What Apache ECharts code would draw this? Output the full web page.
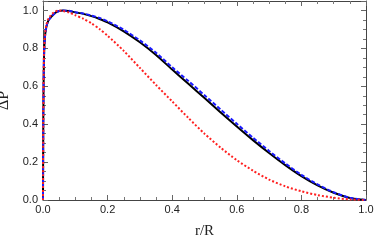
<!DOCTYPE html>
<html>
<head>
<meta charset="utf-8">
<script src="https://cdn.jsdelivr.net/npm/echarts@6/dist/echarts.min.js"></script>
<style>html,body{margin:0;padding:0;background:#fff;}#c{width:374px;height:243px;}</style>
</head>
<body>
<div id="c"></div>
<script>
const xs = [0, 0.001, 0.003, 0.006, 0.01, 0.015, 0.02, 0.03, 0.04, 0.05, 0.06, 0.08, 0.1, 0.125, 0.15, 0.175, 0.2, 0.25, 0.3, 0.35, 0.4, 0.45, 0.5, 0.55, 0.6, 0.65, 0.7, 0.75, 0.8, 0.85, 0.9, 0.95, 1.0];
const blackVals = [0, 0.45, 0.75, 0.86, 0.91, 0.94, 0.955, 0.975, 0.99, 0.997, 1.0, 0.997, 0.99, 0.982, 0.97, 0.955, 0.937, 0.89, 0.832, 0.765, 0.688, 0.613, 0.538, 0.462, 0.388, 0.316, 0.248, 0.184, 0.126, 0.077, 0.038, 0.011, 0];
const blueVals = [0, 0.45, 0.75, 0.86, 0.91, 0.94, 0.955, 0.975, 0.99, 0.997, 1.0, 0.998, 0.991, 0.984, 0.973, 0.96, 0.943, 0.898, 0.842, 0.777, 0.70, 0.628, 0.553, 0.477, 0.402, 0.329, 0.259, 0.193, 0.133, 0.082, 0.041, 0.012, 0];
const redVals = [0, 0.47, 0.77, 0.87, 0.92, 0.95, 0.965, 0.985, 0.996, 1.0, 0.998, 0.99, 0.975, 0.956, 0.932, 0.902, 0.867, 0.787, 0.697, 0.607, 0.52, 0.433, 0.35, 0.276, 0.21, 0.155, 0.108, 0.072, 0.046, 0.026, 0.012, 0.003, 0];
const xTicks = ['0.0', '0.2', '0.4', '0.6', '0.8', '1.0'];
const yTicks = ['0.0', '0.2', '0.4', '0.6', '0.8', '1.0'];
const xTitle = 'r/R';
const yTitle = 'ΔP';

const pairs = v => xs.map((x, i) => [x, v[i]]);
const chart = echarts.init(document.getElementById('c'), null, {renderer: 'canvas'});
const axisLine = {show: true, onZero: false, lineStyle: {color: '#444', width: 1}};
const tickStyle = {inside: true, length: 5, lineStyle: {color: '#666', width: 1}};
const minor = {show: true, splitNumber: 4, length: 3, lineStyle: {color: '#777', width: 1}};
const lbl = {fontFamily: 'Liberation Sans, Arial, sans-serif', fontSize: 11, color: '#222'};
chart.setOption({
  animation: false,
  backgroundColor: '#fff',
  grid: {left: 43, right: 8, top: 1, bottom: 43, containLabel: false, outerBoundsMode: 'none'},
  xAxis: [
    {type: 'value', min: 0, max: 1, interval: 0.2, position: 'bottom',
     axisLine, axisTick: tickStyle, minorTick: minor, splitLine: {show: false},
     axisLabel: Object.assign({margin: 4, formatter: (v) => xTicks[Math.round(v / 0.2)] || ''}, lbl),
     name: xTitle, nameLocation: 'middle', nameGap: 24,
     nameTextStyle: {fontFamily: 'Liberation Serif, Times New Roman, serif', fontSize: 15, color: '#222'}},
    {type: 'value', min: 0, max: 1, interval: 0.2, position: 'top',
     axisLine, axisTick: tickStyle, minorTick: minor, splitLine: {show: false}, axisLabel: {show: false}}
  ],
  yAxis: [
    {type: 'value', min: 0, max: 1.05, interval: 0.2, position: 'left',
     axisLine, axisTick: tickStyle, minorTick: minor, splitLine: {show: false},
     axisLabel: Object.assign({margin: 5, showMaxLabel: false, formatter: (v) => yTicks[Math.round(v / 0.2)] || ''}, lbl),
     name: yTitle, nameLocation: 'middle', nameGap: 23, nameRotate: 90,
     nameTextStyle: {fontFamily: 'Liberation Serif, Times New Roman, serif', fontSize: 16, color: '#222'}},
    {type: 'value', min: 0, max: 1.05, interval: 0.2, position: 'right',
     axisLine, axisTick: tickStyle, minorTick: minor, splitLine: {show: false}, axisLabel: {show: false}}
  ],
  series: [
    {type: 'line', data: pairs(blackVals), showSymbol: false, smooth: 0.25,
     lineStyle: {color: '#000', width: 2}},
    {type: 'line', data: pairs(blueVals), showSymbol: false, smooth: 0.25,
     lineStyle: {color: '#1a1aff', width: 2, type: [4, 2]}},
    {type: 'line', data: pairs(redVals), showSymbol: false, smooth: 0.25,
     lineStyle: {color: '#ff2020', width: 2, type: [2, 2]}}
  ]
});
</script>
</body>
</html>
